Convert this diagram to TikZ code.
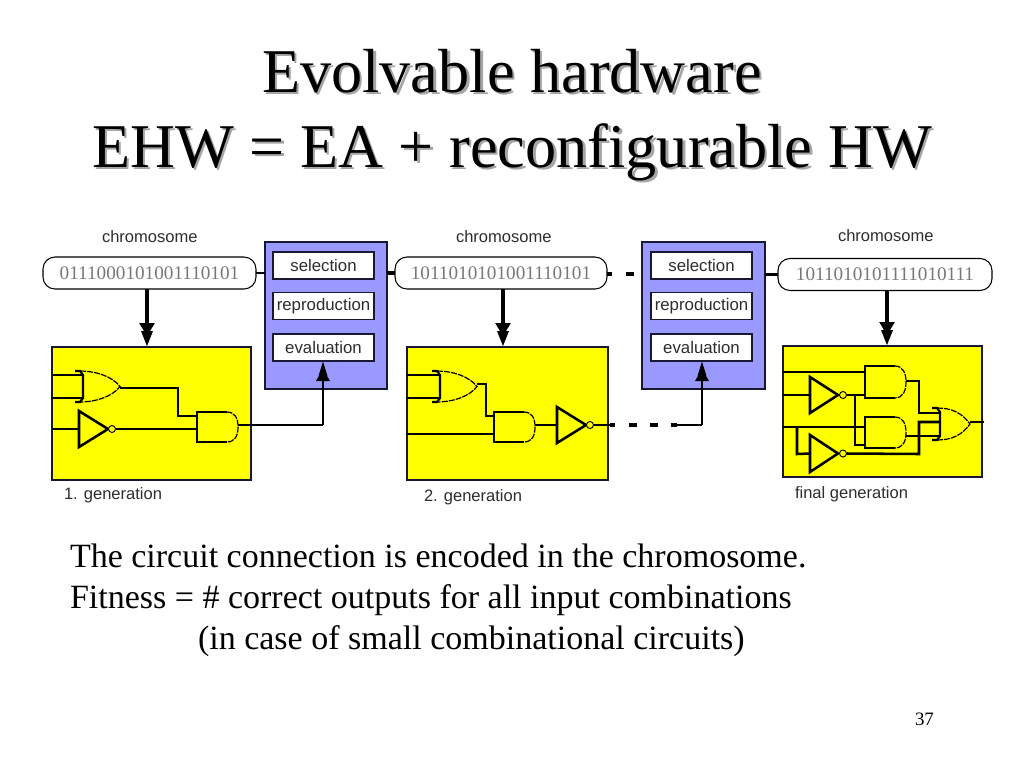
\documentclass[tikz,border=0pt]{standalone}
\usepackage{fontspec}
\setmainfont{Liberation Serif}
\newfontfamily\arialf{Liberation Sans}
\usetikzlibrary{arrows.meta}
\definecolor{evoyellow}{RGB}{255,255,0}
\definecolor{evoblue}{RGB}{153,153,255}
\definecolor{evoink}{RGB}{24,24,50}
\definecolor{bitgray}{RGB}{120,120,120}
\definecolor{labelgray}{RGB}{45,45,45}
\definecolor{shadowgray}{RGB}{165,165,165}
\def\px{0.75pt}
\tikzset{
  base/.style={inner sep=0pt,outer sep=0pt},
  titletext/.style={base,anchor=base,font=\fontsize{46.7}{50}\selectfont},
  titleshadow/.style={titletext,text=shadowgray},
  bodytext/.style={base,anchor=base west,font=\fontsize{25.5}{28}\selectfont},
  sanslabel/.style={base,font=\arialf\fontsize{12.4}{14}\selectfont,text=labelgray,anchor=base west},
  pill/.style={base,draw=black,line width=0.8pt,fill=white,rounded corners=9pt,minimum height=32*\px,
     font=\fontsize{14.4}{16}\selectfont,text=bitgray},
  opbox/.style={base,draw=evoink,line width=1.1pt,fill=evoblue},
  stepbox/.style={base,draw=evoink,line width=1.1pt,fill=white,minimum width=101*\px,minimum height=27*\px,
     font=\arialf\fontsize{12.6}{14}\selectfont,text=labelgray},
  circuitbox/.style={base,draw=evoink,line width=0.8pt,fill=evoyellow},
  wire/.style={line width=1.9pt,line cap=butt,line join=miter},
  thinwire/.style={line width=0.9pt},
  gateheavy/.style={line width=1.6pt,line join=miter},
  gatelight/.style={line width=0.9pt,dash pattern=on 4.5pt off 0.8pt},
  busarrow/.style={line width=3pt,-{Triangle[length=10pt,width=11pt,sep=-4pt]Triangle[length=12pt,width=8pt]}},
  uparrow/.style={line width=1.9pt,-{Triangle[length=9pt,width=10pt,sep=-5pt]Triangle[length=11pt,width=6pt]}},
  link/.style={line width=2.6pt},
  dashlink/.style={line width=2.6pt,dash pattern=on 6pt off 10pt}
}
% AND gate: name, left, top, right, bottom (px)
\newcommand{\andgate}[5]{%
  \pgfmathsetmacro{\gm}{#2+0.72*(#4-#2)}%
  \pgfmathsetmacro{\gy}{(#3+#5)/2}%
  \node[base,minimum width={(#4-#2)*\px},minimum height={(#5-#3)*\px}] (#1) at ({(#2+#4)/2},\gy) {};
  \draw[gateheavy] (\gm,#3) -- (#2,#3) -- (#2,#5) -- (\gm,#5);
  \draw[gatelight] (\gm,#3) .. controls ({#4-3},#3) and (#4,{\gy-9}) .. (#4,\gy) .. controls (#4,{\gy+9}) and ({#4-3},#5) .. (\gm,#5);
}
% OR gate: name, left, top, right, bottom (px); the back sits 8 px inside the left edge
\newcommand{\orgate}[5]{%
  \pgfmathsetmacro{\gy}{(#3+#5)/2}%
  \node[base,minimum width={(#4-#2)*\px},minimum height={(#5-#3)*\px}] (#1) at ({(#2+#4)/2},\gy) {};
  \draw[gateheavy] (#2,#3) -- ({#2+5},#3) -- ({#2+8},{#3+4}) -- ({#2+8},{#5-4}) -- ({#2+5},#5) -- (#2,#5);
  \draw[gatelight] ({#2+5},#3) .. controls ({#2+20},#3) and ({#4-8},{#3+5}) .. (#4,\gy) .. controls ({#4-8},{#5-5}) and ({#2+20},#5) .. ({#2+5},#5);
}
% inverter: name, left, top, right tip, bottom, bubble x (px)
\newcommand{\invgate}[6]{%
  \pgfmathsetmacro{\gy}{(#3+#5)/2}%
  \node[base,minimum width={(#4-#2)*\px},minimum height={(#5-#3)*\px}] (#1) at ({(#2+#4)/2},\gy) {};
  \draw[gateheavy,line width=1.9pt] (#2,#3) -- (#4,\gy) -- (#2,#5) -- cycle;
  \node[base,draw=black,line width=0.7pt,circle,fill=evoyellow,minimum size=7*\px] (#1b) at (#6,\gy) {};
}
\begin{document}
\begin{tikzpicture}[x=0.75pt,y=-0.75pt]
\useasboundingbox[fill=white] (0,0) rectangle (1024,768);
% title
\node[titleshadow] (t1s) at (514.5,94.5) {Evolvable hardware};
\node[titleshadow] (t2s) at (514.5,169.5) {EHW = EA + reconfigurable HW};
\node[titletext] (t1) at (512,92) {Evolvable hardware};
\node[titletext] (t2) at (512,167) {EHW = EA + reconfigurable HW};
% chromosome labels
\node[sanslabel] (c1) at (102,242) {chromosome};
\node[sanslabel] (c2) at (456,242) {chromosome};
\node[sanslabel] (c3) at (838,241) {chromosome};
% boxes
\node[opbox,minimum width=122*\px,minimum height=147*\px] (opA) at (326,315.5) {};
\node[opbox,minimum width=123*\px,minimum height=147*\px] (opB) at (703.5,315.5) {};
\node[stepbox] (selA) at (323.5,265.5) {selection};
\node[stepbox] (repA) at (323.5,306) {reproduction};
\node[stepbox] (evaA) at (323.5,347.5) {evaluation};
\node[stepbox] (selB) at (701.5,265.5) {selection};
\node[stepbox] (repB) at (701.5,306) {reproduction};
\node[stepbox] (evaB) at (701.5,347.5) {evaluation};
\node[pill,minimum width=213*\px] (pA) at (149.5,273) {0111000101001110101};
\node[pill,minimum width=212*\px] (pB) at (501,273) {1011010101001110101};
\node[pill,minimum width=214*\px] (pC) at (885,274.5) {1011010101111010111};
\node[circuitbox,minimum width=199*\px,minimum height=133*\px] (yA) at (151.5,413.5) {};
\node[circuitbox,minimum width=201*\px,minimum height=133*\px] (yB) at (507.5,413.5) {};
\node[circuitbox,minimum width=199*\px,minimum height=131*\px] (yC) at (882.5,411.5) {};
% generation labels
\node[sanslabel] (g1) at (64,499) {1. generation};
\node[sanslabel] (g2) at (424,501) {2. generation};
\node[sanslabel] (g3) at (795,498) {final generation};
% coordinates for connector rails
\coordinate (ax) at (147,0);
\coordinate (bx) at (503,0);
\coordinate (cx) at (887,0);
\coordinate (ex) at (323,0);
\coordinate (fx) at (702,0);
% chromosome to circuit
\draw[busarrow] (pA.south -| ax) -- (yA.north -| ax);
\draw[busarrow] (pB.south -| bx) -- (yB.north -| bx);
\draw[busarrow] (pC.south -| cx) -- (yC.north -| cx);
% chain along the top
\draw[thinwire] (pA.east) -- (pA.east -| opA.west);
\draw[link] (opA.east |- pB.west) -- (pB.west);
\draw[dashlink,dash phase=2pt] ([yshift=-0.75pt]pB.east) -- ([yshift=-0.75pt]pB.east -| opB.west);
\draw[link] (opB.east |- pC.west) -- (pC.west);
% circuit 1
\orgate{orA}{75}{371}{120}{402}
\andgate{anA}{197}{412}{238}{442}
\invgate{inA}{79}{411}{108}{447}{112}
\draw[wire] (yA.west |- 0,375) -- (83,375);
\draw[wire] (yA.west |- 0,398) -- (83,398);
\draw[thinwire,line width=1.4pt] (orA.east |- 0,388) -- (178,388) -- (178,416) -- (anA.west |- 0,416);
\draw[wire] (yA.west |- inA.west) -- (inA.west);
\draw[wire] (inAb.east) -- (anA.west |- inAb.east);
\draw[wire] (anA.east |- 0,425) -- (ex |- 0,425);
\draw[uparrow] (ex |- 0,425) -- (ex |- evaA.south);
% circuit 2
\orgate{orB}{432}{371}{477}{402}
\andgate{anB}{494}{412}{535}{442}
\invgate{inB}{557}{407}{586}{443}{590}
\draw[wire] (yB.west |- 0,375) -- (440,375);
\draw[wire] (yB.west |- 0,398) -- (440,398);
\draw[wire] (orB.east |- 0,384) -- (486,384) -- (486,416) -- (anB.west |- 0,416);
\draw[wire] (yB.west |- 0,434) -- (anB.west |- 0,434);
\draw[wire] (anB.east |- 0,425) -- (inB.west);
\draw[wire] (inBb.east) -- (610,425);
\draw[dashlink,dash phase=2pt] (610,425) -- (677,425);
\draw[wire] (677,425) -- (fx |- 0,425);
\draw[uparrow] (fx |- 0,425) -- (fx |- evaB.south);
% circuit 3
\andgate{anC}{865}{366}{906}{398}
\andgate{anD}{865}{417}{906}{448}
\orgate{orC}{932}{408}{970}{440}
\invgate{inC}{810}{377}{838}{413}{843}
\invgate{inD}{810}{435}{838}{472}{843}
\draw[wire] (yC.west |- 0,372) -- (anC.west |- 0,372);
\draw[wire] (yC.west |- inC.west) -- (inC.west);
\draw[wire] (inCb.east) -- (anC.west |- inCb.east);
\draw[thinwire] (855,395) -- (855,445) -- (anD.west |- 0,445);
\draw[wire] (yC.west |- 0,427) -- (anD.west |- 0,427);
\draw[wire] (797,427) -- (797,454) -- (inD.west);
\draw[wire] (inDb.east) -- (919,454) -- (919,422) -- (940,422);
\draw[wire] (anC.east |- 0,381) -- (919,381) -- (919,413) -- (940,413);
\draw[wire] (anD.east |- 0,436) -- (940,436);
\draw[wire] (orC.east |- 0,422) -- (984,422);
% body
\node[bodytext] (b1) at (70,567) {The circuit connection is encoded in the chromosome.};
\node[bodytext] (b2) at (70,608) {Fitness = \# correct outputs for all input combinations};
\node[bodytext] (b3) at (198,649) {(in case of small combinational circuits)};
\node[base,anchor=base west,font=\fontsize{14.2}{16}\selectfont] (pg) at (915,725) {37};
\end{tikzpicture}
\end{document}
